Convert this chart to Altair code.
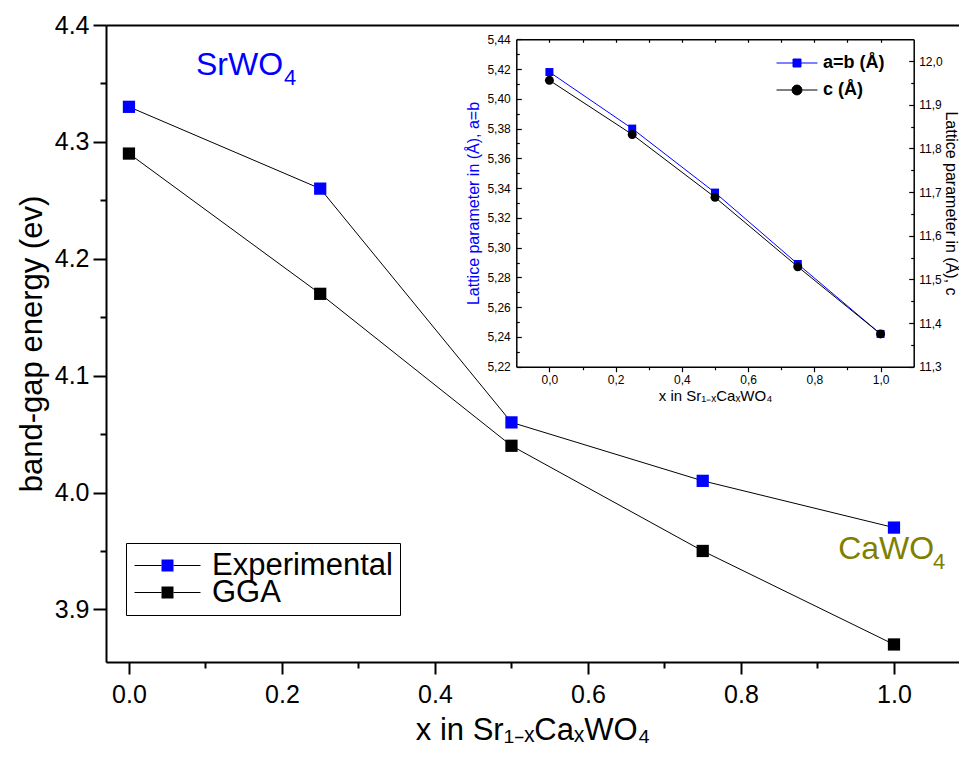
import altair as alt
import pandas as pd

# ---------------- data ----------------
x_comp = [0.0, 0.25, 0.5, 0.75, 1.0]
gap_experimental = [4.33, 4.26, 4.06, 4.01, 3.97]
gap_gga = [4.29, 4.17, 4.04, 3.95, 3.87]
lat_ab = [5.418, 5.380, 5.337, 5.289, 5.242]
lat_c = [11.956, 11.832, 11.688, 11.529, 11.375]

main_series = ["Experimental", "GGA"]
main_marker_colors = ["#0000ff", "#000000"]
ab_series = ["a=b (Å)"]
c_series = ["c (Å)"]

main_x_ticks = [0.0, 0.2, 0.4, 0.6, 0.8, 1.0]
main_x_minor = [0.1, 0.3, 0.5, 0.7, 0.9]
main_y_ticks = [3.9, 4.0, 4.1, 4.2, 4.3, 4.4]
main_y_minor = [3.95, 4.05, 4.15, 4.25, 4.35]
inset_x_ticks = [0.0, 0.2, 0.4, 0.6, 0.8, 1.0]
inset_x_minor = [0.1, 0.3, 0.5, 0.7, 0.9]
inset_x_top = [0.0, 0.1, 0.2, 0.3, 0.4, 0.5, 0.6, 0.7, 0.8, 0.9, 1.0]
inset_ab_ticks = [5.22, 5.24, 5.26, 5.28, 5.30, 5.32, 5.34, 5.36, 5.38, 5.40, 5.42, 5.44]
inset_ab_minor = [5.23, 5.25, 5.27, 5.29, 5.31, 5.33, 5.35, 5.37, 5.39, 5.41, 5.43]
inset_c_ticks = [11.3, 11.4, 11.5, 11.6, 11.7, 11.8, 11.9, 12.0]
inset_c_minor = [11.35, 11.45, 11.55, 11.65, 11.75, 11.85, 11.95]

anno_text = ["SrWO", "CaWO"]
anno_x = [0.0876, 0.927]
anno_y = [4.357, 3.943]
anno_color = ["#0000ff", "#808000"]
anno_sub = ["4", "4"]
anno_sub_x = [0.2026, 1.051]

# ---------------- tables ----------------
main_df = pd.DataFrame({
    "x": x_comp + x_comp,
    "val": gap_experimental + gap_gga,
    "series": [main_series[0]] * len(x_comp) + [main_series[1]] * len(x_comp),
})
ab_df = pd.DataFrame({"x": x_comp, "val": lat_ab, "series": ab_series * len(x_comp)})
c_df = pd.DataFrame({"x": x_comp, "val": lat_c, "series": c_series * len(x_comp)})
anno_df = pd.DataFrame({"t": anno_text, "x": anno_x, "y": anno_y, "c": anno_color})
sub_df = pd.DataFrame({"t": anno_sub, "x": anno_sub_x, "y": anno_y, "c": anno_color})

# ---------------- layout ----------------
W, H = 853, 637
IX0, IX1 = 410.3, 807.7      # inset frame, view px
IYB, IYT = 341.7, 14.3
FONT = "Liberation Sans"
BLUE = "#0000ff"

sx_main = alt.Scale(domain=[-0.03, 1.085], range=[0, W], nice=False, zero=False)
sy_main = alt.Scale(domain=[3.855, 4.4], range=[H, 0], nice=False, zero=False)
sx_in = alt.Scale(domain=[-0.1, 1.1], range=[IX0, IX1], nice=False, zero=False)
sy_ab = alt.Scale(domain=[5.22, 5.44], range=[IYB, IYT], nice=False, zero=False)
sy_c = alt.Scale(domain=[11.3, 12.05], range=[IYB, IYT], nice=False, zero=False)

comma1 = "replace(format(datum.value, '.1f'), '.', ',')"
comma2 = "replace(format(datum.value, '.2f'), '.', ',')"
XTITLE = "x in Sr\u2081\u208B\u2093Ca\u2093WO\u2084"

common = dict(grid=False, labelFont=FONT, titleFont=FONT, labelColor="black",
              titleColor="black", tickColor="black", domainColor="black",
              titleFontWeight="normal", labelOverlap=False)

ax_main_x = alt.Axis(orient="bottom", values=main_x_ticks, format=".1f", tickSize=12, tickWidth=2,
                     domainWidth=2, labelFontSize=25, labelPadding=8, title=XTITLE,
                     titleFontSize=31, titlePadding=8, **common)
ax_main_y = alt.Axis(orient="left", values=main_y_ticks, format=".1f", tickSize=13, tickWidth=2,
                     domainWidth=2, labelFontSize=25, labelPadding=4, title="band-gap energy (ev)",
                     titleFontSize=31, titlePadding=6, **common)
ax_main_x_minor = alt.Axis(orient="bottom", values=main_x_minor, tickSize=6, tickWidth=2,
                           labels=False, domain=False, title=None, **common)
ax_main_y_minor = alt.Axis(orient="left", values=main_y_minor, tickSize=6, tickWidth=2,
                           labels=False, domain=False, title=None, **common)
ax_main_top = alt.Axis(orient="top", ticks=False, labels=False, domainWidth=2, title=None, **common)

ax_in_x = alt.Axis(orient="bottom", offset=IYB - H, values=inset_x_ticks, labelExpr=comma1,
                   tickSize=5, tickWidth=1.2, domainWidth=1.5, labelFontSize=12, labelPadding=3,
                   title=XTITLE, titleFontSize=15, titlePadding=3, **common)
ax_in_x_minor = alt.Axis(orient="bottom", offset=IYB - H, values=inset_x_minor, tickSize=3,
                         tickWidth=1.2, labels=False, domain=False, title=None, **common)
ax_in_x_top = alt.Axis(orient="bottom", offset=IYT - H, values=inset_x_top, tickSize=3,
                       tickWidth=1.2, labels=False, domainWidth=1.5, title=None, **common)
ax_in_ab_lab = alt.Axis(orient="left", offset=-IX0, values=inset_ab_ticks, labelExpr=comma2,
                        ticks=False, tickSize=0, domain=False, labelFontSize=12, labelPadding=6,
                        title="Lattice parameter in (Å), a=b", titleFontSize=16, titlePadding=5,
                        **{**common, "titleColor": BLUE})
ax_in_ab_tick = alt.Axis(orient="right", offset=IX0 - W, values=inset_ab_ticks, tickSize=5,
                         tickWidth=1.2, labels=False, domainWidth=1.5, title=None, **common)
ax_in_ab_minor = alt.Axis(orient="right", offset=IX0 - W, values=inset_ab_minor, tickSize=3,
                          tickWidth=1.2, labels=False, domain=False, title=None, **common)
ax_in_c_lab = alt.Axis(orient="right", offset=IX1 - W, values=inset_c_ticks, labelExpr=comma1,
                       ticks=False, tickSize=0, domain=False, labelFontSize=12, labelPadding=5,
                       title="Lattice parameter in (Å), c", titleFontSize=16, titlePadding=0, **common)
ax_in_c_tick = alt.Axis(orient="left", offset=-IX1, values=inset_c_ticks, tickSize=5,
                        tickWidth=1.2, labels=False, domainWidth=1.5, title=None, **common)
ax_in_c_minor = alt.Axis(orient="left", offset=-IX1, values=inset_c_minor, tickSize=3,
                         tickWidth=1.2, labels=False, domain=False, title=None, **common)

# legend symbols (custom paths, unit = sqrt(size)/2 px)
PATH_LINE = "M-2.75,0H-0.5M0.5,0H2.75"
PATH_SQ = "M-0.5,-0.5H0.5V0.5H-0.5Z"
PATH_IN_SQ = "M-2.56,0H-0.5M0.5,0H2.56M-0.5,-0.5H0.5V0.5H-0.5Z"
PATH_IN_CIR = ("M-2.56,0H-0.62M0.62,0H2.56M-0.62,0A0.62,0.62 0 1,0 0.62,0"
               "A0.62,0.62 0 1,0 -0.62,0Z")

LX, LY = 20, 518
leg_common = dict(orient="none", title=None, labelFont=FONT, labelLimit=0)
leg_main = dict(legendX=LX, legendY=LY, symbolSize=576, symbolOffset=19, labelFontSize=31,
                labelOffset=29, padding=7, rowPadding=-5, gridAlign="none")
leg_main_lines = alt.Legend(symbolType=PATH_LINE, symbolStrokeWidth=1, labelColor="black",
                            strokeColor="black", **leg_main, **leg_common)
leg_main_pts = alt.Legend(symbolType=PATH_SQ, symbolStrokeWidth=0, labelExpr="''",
                          **leg_main, **leg_common)
leg_ab = alt.Legend(legendX=682, legendY=29, symbolType=PATH_IN_SQ, symbolSize=256,
                    symbolStrokeColor=BLUE, symbolStrokeWidth=1, labelFontSize=18,
                    labelFontWeight="bold", labelColor="black", labelOffset=17, padding=0,
                    **leg_common)
leg_c = alt.Legend(legendX=682, legendY=56, symbolType=PATH_IN_CIR, symbolSize=256,
                   symbolStrokeColor="black", symbolStrokeWidth=1, labelFontSize=18,
                   labelFontWeight="bold", labelColor="black", labelOffset=17, padding=0,
                   **leg_common)

# ---------------- layers ----------------
lines_main = alt.Chart(main_df).mark_line(strokeWidth=1).encode(
    x=alt.X("x:Q", scale=sx_main, axis=ax_main_x),
    y=alt.Y("val:Q", scale=sy_main, axis=ax_main_y),
    color=alt.Color("series:N", scale=alt.Scale(domain=main_series, range=["#000000", "#000000"]),
                    legend=leg_main_lines),
)
pts_main = alt.Chart(main_df).mark_square(size=150, opacity=1, filled=True).encode(
    x=alt.X("x:Q", scale=sx_main, axis=None),
    y=alt.Y("val:Q", scale=sy_main, axis=None),
    color=alt.Color("series:N", scale=alt.Scale(domain=main_series, range=main_marker_colors),
                    legend=leg_main_pts),
)
minor_main = alt.Chart(main_df).mark_point(opacity=0).encode(
    x=alt.X("x:Q", scale=sx_main, axis=ax_main_x_minor),
    y=alt.Y("val:Q", scale=sy_main, axis=ax_main_y_minor),
)
top_main = alt.Chart(main_df).mark_point(opacity=0).encode(
    x=alt.X("x:Q", scale=sx_main, axis=ax_main_top),
    y=alt.Y("val:Q", scale=sy_main, axis=None),
)
ab_line = alt.Chart(ab_df).mark_line(strokeWidth=1, color=BLUE).encode(
    x=alt.X("x:Q", scale=sx_in, axis=ax_in_x),
    y=alt.Y("val:Q", scale=sy_ab, axis=ax_in_ab_lab),
)
ab_pts = alt.Chart(ab_df).mark_square(size=64, opacity=1, filled=True).encode(
    x=alt.X("x:Q", scale=sx_in, axis=ax_in_x_minor),
    y=alt.Y("val:Q", scale=sy_ab, axis=ax_in_ab_tick),
    color=alt.Color("series:N", scale=alt.Scale(domain=ab_series, range=[BLUE]), legend=leg_ab),
)
c_line = alt.Chart(c_df).mark_line(strokeWidth=1, color="black").encode(
    x=alt.X("x:Q", scale=sx_in, axis=ax_in_x_top),
    y=alt.Y("val:Q", scale=sy_c, axis=ax_in_c_lab),
)
c_pts = alt.Chart(c_df).mark_circle(size=80, opacity=1).encode(
    x=alt.X("x:Q", scale=sx_in, axis=None),
    y=alt.Y("val:Q", scale=sy_c, axis=ax_in_c_tick),
    color=alt.Color("series:N", scale=alt.Scale(domain=c_series, range=["#000000"]), legend=leg_c),
)
ab_minor = alt.Chart(ab_df).mark_point(opacity=0).encode(
    x=alt.X("x:Q", scale=sx_in, axis=None),
    y=alt.Y("val:Q", scale=sy_ab, axis=ax_in_ab_minor),
)
c_minor = alt.Chart(c_df).mark_point(opacity=0).encode(
    x=alt.X("x:Q", scale=sx_in, axis=None),
    y=alt.Y("val:Q", scale=sy_c, axis=ax_in_c_minor),
)
anno = alt.Chart(anno_df).mark_text(fontSize=32, font=FONT, align="left", baseline="alphabetic").encode(
    x=alt.X("x:Q", scale=sx_main, axis=None),
    y=alt.Y("y:Q", scale=sy_main, axis=None),
    text="t:N",
    color=alt.Color("c:N", scale=None, legend=None),
)
anno_sub_layer = alt.Chart(sub_df).mark_text(fontSize=22, font=FONT, align="left",
                                             baseline="alphabetic", dy=10).encode(
    x=alt.X("x:Q", scale=sx_main, axis=None),
    y=alt.Y("y:Q", scale=sy_main, axis=None),
    text="t:N",
    color=alt.Color("c:N", scale=None, legend=None),
)

chart = alt.layer(
    lines_main, pts_main, minor_main, top_main,
    ab_line, ab_pts, c_line, c_pts, ab_minor, c_minor,
    anno, anno_sub_layer,
).resolve_scale(
    x="independent", y="independent", color="independent"
).properties(
    width=W, height=H,
    padding={"left": 106, "top": 25, "right": 0, "bottom": 100},
    autosize="none",
    background="white",
).configure_view(stroke=None).configure(font=FONT)

chart.save("out.html", embed_options={"renderer": "svg", "actions": False})
